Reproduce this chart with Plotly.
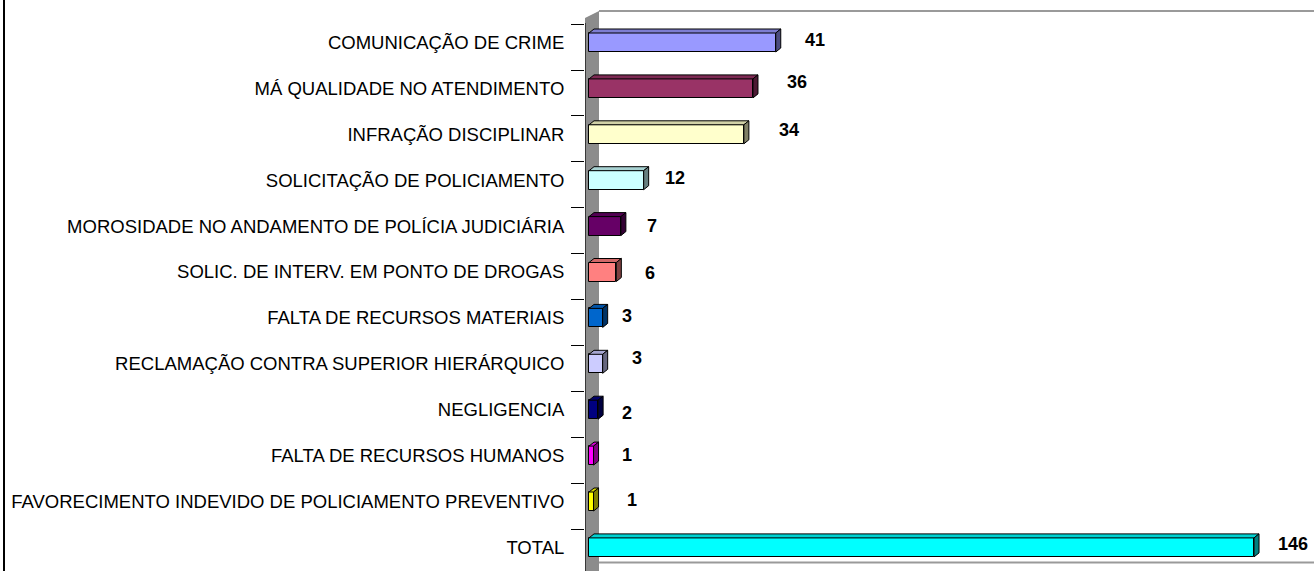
import plotly.graph_objects as go

# ---- data ----
categories = [
    "COMUNICAÇÃO DE CRIME",
    "MÁ QUALIDADE NO ATENDIMENTO",
    "INFRAÇÃO DISCIPLINAR",
    "SOLICITAÇÃO DE POLICIAMENTO",
    "MOROSIDADE NO ANDAMENTO DE POLÍCIA JUDICIÁRIA",
    "SOLIC. DE INTERV. EM PONTO DE DROGAS",
    "FALTA DE RECURSOS MATERIAIS",
    "RECLAMAÇÃO CONTRA SUPERIOR HIERÁRQUICO",
    "NEGLIGENCIA",
    "FALTA DE RECURSOS HUMANOS",
    "FAVORECIMENTO INDEVIDO DE POLICIAMENTO PREVENTIVO",
    "TOTAL",
]
values = [41, 36, 34, 12, 7, 6, 3, 3, 2, 1, 1, 146]

# ---- styles ----
colors = ["#9999FF", "#993366", "#FFFFCC", "#CCFFFF", "#660066", "#FF8080",
          "#0066CC", "#CCCCFF", "#000080", "#FF00FF", "#FFFF00", "#00FFFF"]
label_dx = [27, 32, 33, 19, 24, 27, 17, 27, 22, 26, 31, 22]   # px right of bar end
label_dy = [-3, -6, -4, -2, 0, 1, -2, -6, 3, -1, -2, -3]      # px (down positive)

W, H = 1314, 571
PLOT_L = 585
BAR0PX = 589.0
PXU = 4.555
CY0, DY = 42.5, 45.9
BAR_W = 19 / DY
DXP, DYP = 5.0, 4.0  # 3D depth in px


def xd(px):
    return (px - BAR0PX) / PXU


def yd(py):
    return (py - CY0) / DY


def shade(hexc, f):
    h = hexc.lstrip("#")
    r, g, b = (int(h[i:i + 2], 16) for i in (0, 2, 4))
    return "rgb(%d,%d,%d)" % (int(r * f), int(g * f), int(b * f))


ys = list(range(len(categories)))
ddx = DXP / PXU
ddy = DYP / DY

fig = go.Figure()
fig.add_trace(go.Bar(
    x=values, y=ys, orientation="h", width=BAR_W,
    marker=dict(color=colors, line=dict(color="black", width=1)),
    hoverinfo="x+text", text=categories, textposition="none",
))

shapes = []
# wall
shapes.append(dict(type="path", xref="x", yref="y", layer="below",
                   path="M %f %f L %f %f L %f %f L %f %f Z" % (
                       xd(585), yd(18), xd(599), yd(11), xd(599), yd(571), xd(585), yd(571)),
                   fillcolor="#8c8c8c", line=dict(width=0)))
# top edge and floor edge
shapes.append(dict(type="line", xref="x", yref="y", layer="below",
                   x0=xd(599), x1=xd(1314), y0=yd(11), y1=yd(11),
                   line=dict(color="#9a9a9a", width=2)))
shapes.append(dict(type="line", xref="x", yref="y", layer="below",
                   x0=xd(599), x1=xd(1314), y0=yd(562.5), y1=yd(562.5),
                   line=dict(color="#9a9a9a", width=2)))
# axis line
shapes.append(dict(type="line", xref="x", yref="y",
                   x0=xd(585), x1=xd(585), y0=yd(23), y1=yd(571),
                   line=dict(color="black", width=1.2)))
# left frame line
shapes.append(dict(type="line", xref="paper", yref="paper",
                   x0=(4 - PLOT_L) / (W - PLOT_L), x1=(4 - PLOT_L) / (W - PLOT_L),
                   y0=0, y1=1, line=dict(color="black", width=2)))

# 3D faces of each bar
for i, (v, c) in enumerate(zip(values, colors)):
    yt = i - BAR_W / 2
    yb = i + BAR_W / 2
    top = "M 0 %f L %f %f L %f %f L %f %f Z" % (yt, v, yt, v + ddx, yt - ddy, ddx, yt - ddy)
    side = "M %f %f L %f %f L %f %f L %f %f Z" % (v, yt, v, yb, v + ddx, yb - ddy, v + ddx, yt - ddy)
    shapes.append(dict(type="path", xref="x", yref="y", path=top,
                       fillcolor=shade(c, 0.82), line=dict(color="black", width=1)))
    shapes.append(dict(type="path", xref="x", yref="y", path=side,
                       fillcolor=shade(c, 0.5), line=dict(color="black", width=1)))

annotations = []
for i, v in enumerate(values):
    annotations.append(dict(
        x=v, y=i, xref="x", yref="y", text=str(v), showarrow=False,
        xanchor="left", yanchor="middle", xshift=label_dx[i], yshift=-label_dy[i],
        font=dict(family="Liberation Sans, Arial, sans-serif", size=18, color="black", weight="bold"),
    ))

fig.update_layout(
    width=W, height=H,
    margin=dict(l=PLOT_L, r=0, t=0, b=0, autoexpand=False),
    paper_bgcolor="white", plot_bgcolor="white",
    showlegend=False,
    bargap=0,
    shapes=shapes,
    annotations=annotations,
    xaxis=dict(range=[xd(PLOT_L), xd(W)], showgrid=False, zeroline=False,
               showticklabels=False, showline=False, ticks="", automargin=False),
    yaxis=dict(range=[yd(H), yd(0)], showgrid=False, zeroline=False, showline=False,
               automargin=False,
               tickmode="array", tickvals=ys, ticktext=categories,
               ticks="outside", ticklen=13, tickcolor="rgba(0,0,0,0)",
               ticklabelstandoff=3,
               tickfont=dict(family="Liberation Sans, Arial, sans-serif",
                             size=18.5, color="black"),
               minor=dict(tickmode="array", tickvals=[i - 0.4 for i in ys],
                          ticks="outside", ticklen=13, tickcolor="black", tickwidth=1,
                          showgrid=False)),
)

fig.write_html("out.html", config={"displayModeBar": False},
               post_script="document.body.style.margin='0';document.body.style.overflow='hidden';")
